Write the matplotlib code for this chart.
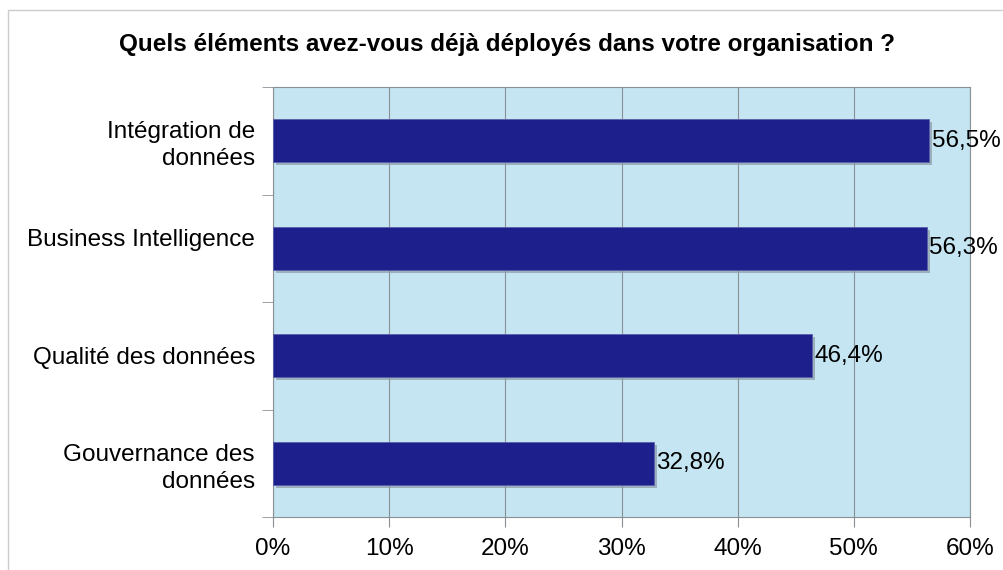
import numpy as np
import matplotlib
matplotlib.use('Agg')
import matplotlib.pyplot as plt
import matplotlib.patheffects as pe
from matplotlib.patches import Rectangle

plt.rcParams['font.family'] = ['Liberation Sans', 'DejaVu Sans']

categories = ['Intégration de\ndonnées', 'Business Intelligence\n ',
              'Qualité des données', 'Gouvernance des\ndonnées']
values = [56.5, 56.3, 46.4, 32.8]
value_labels = ['56,5%', '56,3%', '46,4%', '32,8%']
xticks = [0, 10, 20, 30, 40, 50, 60]

fig = plt.figure(figsize=(10.04, 5.70), dpi=100)
# light grey frame around the chart
fig.patches.append(Rectangle((8 / 1004, -0.2), 1.2, 1.2 - 10 / 570,
                             transform=fig.transFigure, fill=False,
                             edgecolor='#cccccc', linewidth=1))
ax = fig.add_axes([273 / 1004, 1 - 517 / 570, (970 - 273) / 1004, (517 - 87) / 570])
ax.set_facecolor('#c5e5f2')

y = np.arange(len(categories))
bars = ax.barh(y, values, height=0.4, color='#1c1f8c', edgecolor='#5a5fa8',
               linewidth=0.6, zorder=3)
for b in bars:
    b.set_path_effects([pe.SimplePatchShadow(offset=(2, -2), shadow_rgbFace='#8a9aa6', alpha=0.7),
                        pe.Normal()])

for v, lab, yi in zip(values, value_labels, y):
    ax.text(v + 0.2, yi, lab, va='center', ha='left', fontsize=17.5, zorder=4)

ax.set_xlim(0, 60)
ax.set_ylim(len(categories) - 0.5, -0.5)
ax.set_xticks(xticks)
ax.set_xticklabels([f'{t}%' for t in xticks], fontsize=17.5)
ax.xaxis.grid(True, color='#8a9196', linewidth=0.8, zorder=0)
ax.set_axisbelow(True)

ax.set_yticks(y)
ax.set_yticklabels(categories, fontsize=17.5, multialignment='right', linespacing=1.3)
ax.set_yticks(np.arange(len(categories) + 1) - 0.5, minor=True)
ax.tick_params(axis='y', which='major', length=0, pad=13)
ax.tick_params(axis='y', which='minor', length=8, color='#8a9196', direction='out')
ax.tick_params(axis='x', length=7, color='#8a9196', pad=8)

for s in ax.spines.values():
    s.set_color('#8a9196')
    s.set_linewidth(0.8)

fig.text(0.505, 1 - 45 / 570, 'Quels éléments avez-vous déjà déployés dans votre organisation ?',
         ha='center', va='center', fontsize=17.5, fontweight='bold')

fig.savefig('out.png', dpi=100)
